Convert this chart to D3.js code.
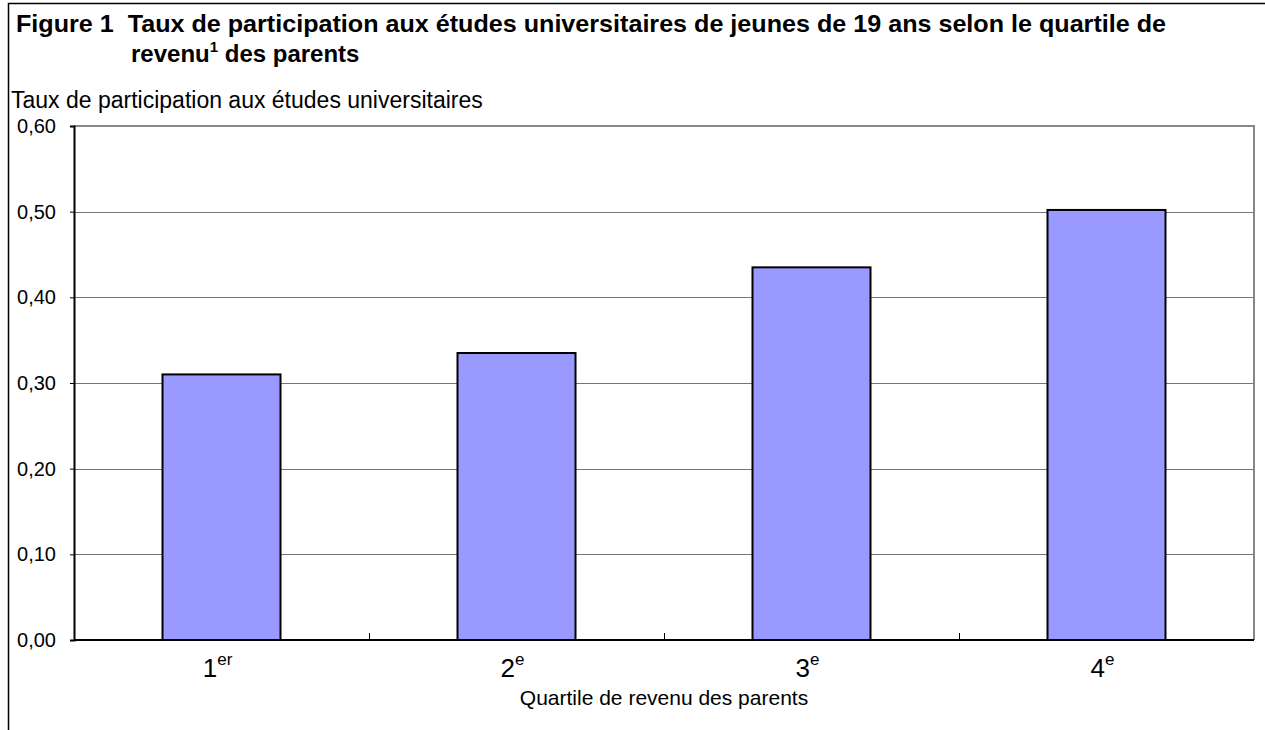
<!DOCTYPE html>
<html>
<head>
<meta charset="utf-8">
<script src="https://cdn.jsdelivr.net/npm/d3@7"></script>
<style>
  body { margin: 0; background: #fff; }
  text { font-family: "Liberation Sans", Arial, sans-serif; fill: #000; }
</style>
</head>
<body>
<svg id="chart" width="1265" height="730"></svg>
<script>
// data
var quartiles = ["1", "2", "3", "4"];
var quartileSup = ["er", "e", "e", "e"];
var rates = [0.31, 0.335, 0.435, 0.502];
var yTicks = [0, 0.1, 0.2, 0.3, 0.4, 0.5, 0.6];

const svg = d3.select("#chart"),
  width = +svg.attr("width"),
  height = +svg.attr("height");

const margin = {left: 74, right: 11, top: 126, bottom: 90};

const x = d3.scaleBand()
  .domain(quartiles)
  .range([margin.left, width - margin.right])
  .paddingInner(0.6)
  .paddingOuter(0.3);

const y = d3.scaleLinear()
  .domain([0, 0.6])
  .range([height - margin.bottom, margin.top]);

const fmt = function(d) { return d3.format(".2f")(d).replace(".", ","); };

// outer frame (left + top only)
svg.append("path")
  .attr("d", "M8.5," + height + "V3.5H" + width)
  .attr("fill", "none")
  .attr("stroke", "#000")
  .attr("stroke-width", 1.5);

// title
const title = svg.append("g").style("font-weight", "bold").style("font-size", "24px");
title.append("text").attr("x", 16).attr("y", 32)
  .attr("textLength", 1150)
  .attr("lengthAdjust", "spacingAndGlyphs")
  .text("Figure 1\u00a0\u00a0Taux de participation aux études universitaires de jeunes de 19 ans selon le quartile de");
const t2 = title.append("text").attr("x", 131).attr("y", 62);
t2.append("tspan").text("revenu");
t2.append("tspan").attr("dy", -10).style("font-size", "15px").text("1");
t2.append("tspan").attr("dy", 10).text(" des parents");

// y axis title
svg.append("text")
  .attr("x", 11).attr("y", 108)
  .style("font-size", "23px")
  .text("Taux de participation aux études universitaires");

// gridlines
svg.append("g")
  .selectAll("line")
  .data(yTicks.slice(1, -1))
  .enter()
  .append("line")
    .attr("x1", margin.left).attr("x2", width - margin.right)
    .attr("y1", function(d) { return Math.round(y(d)) + 0.5; })
    .attr("y2", function(d) { return Math.round(y(d)) + 0.5; })
    .attr("stroke", "#777")
    .attr("stroke-width", 1);

// plot border top + right
svg.append("path")
  .attr("d", "M" + margin.left + "," + y(0.6) + "H" + (width - margin.right) + "V" + y(0))
  .attr("fill", "none")
  .attr("stroke", "#888")
  .attr("stroke-width", 2);

// bars
svg.append("g")
  .selectAll("rect")
  .data(rates)
  .enter()
  .append("rect")
    .attr("x", function(d, i) { return x(quartiles[i]); })
    .attr("y", function(d) { return y(d); })
    .attr("width", x.bandwidth())
    .attr("height", function(d) { return y(0) - y(d); })
    .attr("fill", "#9999FF")
    .attr("stroke", "#000")
    .attr("stroke-width", 2);

// y axis
const yAxis = svg.append("g")
  .attr("transform", "translate(" + margin.left + ",0)")
  .call(d3.axisLeft(y).tickValues(yTicks).tickFormat(fmt).tickSize(4).tickPadding(14));
yAxis.select(".domain").attr("stroke", "#000").attr("stroke-width", 2);
yAxis.selectAll("text").style("font-size", "20px").attr("font-family", null);

// x axis: ticks at band boundaries, pointing up
const xAxis = svg.append("g").attr("transform", "translate(0," + y(0) + ")");
xAxis.append("line")
  .attr("x1", margin.left).attr("x2", width - margin.right)
  .attr("stroke", "#000").attr("stroke-width", 2);
xAxis.selectAll("line.tick")
  .data(quartiles.slice(1))
  .enter()
  .append("line")
    .attr("class", "tick")
    .attr("x1", function(d) { return Math.round(x(d) - x.step() * x.paddingInner() / 2) + 0.5; })
    .attr("x2", function(d) { return Math.round(x(d) - x.step() * x.paddingInner() / 2) + 0.5; })
    .attr("y1", 0).attr("y2", -7)
    .attr("stroke", "#000");

const labels = xAxis.selectAll("text.lab")
  .data(quartiles)
  .enter()
  .append("text")
    .attr("class", "lab")
    .attr("x", function(d) { return x(d) + x.bandwidth() / 2 - 4; })
    .attr("y", 37)
    .attr("text-anchor", "middle")
    .style("font-size", "26px");
labels.append("tspan").text(function(d) { return d; });
labels.append("tspan").attr("dy", -12).style("font-size", "17px")
  .text(function(d, i) { return quartileSup[i]; });

svg.append("text")
  .attr("x", (margin.left + width - margin.right) / 2)
  .attr("y", 705)
  .attr("text-anchor", "middle")
  .style("font-size", "21px")
  .text("Quartile de revenu des parents");
</script>
</body>
</html>
